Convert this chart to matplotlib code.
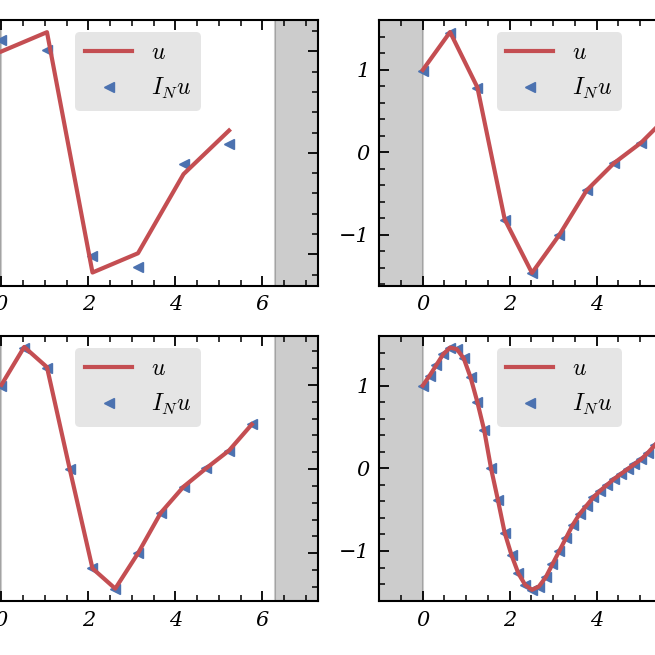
import os
import numpy as np
import matplotlib
matplotlib.use("Agg")
import matplotlib.pyplot as plt
from matplotlib.font_manager import FontProperties

plt.rcParams['font.family'] = 'serif'
plt.rcParams['font.serif'] = ['DejaVu Serif']
plt.rcParams['mathtext.fontset'] = 'cm'

ital = FontProperties(fname=os.path.join(matplotlib.get_data_path(), 'fonts', 'ttf',
                                         'DejaVuSerif-Italic.ttf'), size=15)

# values, grid x_j = 2*pi*j/N
u6 = [1.00, 1.19, -1.18, -0.99, -0.21, 0.22]
iu6 = [1.11, 1.01, -1.02, -1.13, -0.11, 0.09]

u10 = [1.00, 1.46, 0.79, -0.81, -1.46, -1.00, -0.46, -0.13, 0.12, 0.45]
iu10 = [0.99, 1.45, 0.78, -0.82, -1.46, -1.00, -0.46, -0.13, 0.12, 0.45]

u12 = [1.00, 1.45, 1.21, 0.00, -1.18, -1.42, -1.00, -0.52, -0.21, 0.01, 0.22, 0.53]
iu12 = [0.99, 1.44, 1.20, 0.00, -1.18, -1.42, -1.00, -0.52, -0.21, 0.01, 0.22, 0.53]

u40 = [1.00, 1.12, 1.25, 1.38, 1.46, 1.44, 1.33, 1.10, 0.80, 0.46,
       0.00, -0.38, -0.78, -1.05, -1.27, -1.41, -1.47, -1.43, -1.32, -1.16,
       -1.00, -0.84, -0.68, -0.55, -0.45, -0.35, -0.27, -0.20, -0.13, -0.07,
       -0.01, 0.05, 0.11, 0.19, 0.28, 0.38, 0.48, 0.58, 0.70, 0.85]
iu40 = u40

xticks = [0, 2, 4, 6]
yticks = [-1, 0, 1]

panels = [(u6, iu6), (u10, iu10), (u12, iu12), (u40, iu40)]
ylims = [(-1.31, 1.31), (-1.615, 1.606), (-1.567, 1.58), (-1.605, 1.60)]

red = '#C44E52'
blue = '#4C72B0'

fig = plt.figure(figsize=(6.55, 6.55), dpi=100)
W, H = 655, 655
rects = [(-42, 20, 360, 265.7), (379.3, 20, 360, 265.7),
         (-42, 336, 360, 265), (379.3, 336, 360, 265)]

for (u, iu), yl, (x0, y0, w, h) in zip(panels, ylims, rects):
    ax = fig.add_axes([x0 / W, 1 - (y0 + h) / H, w / W, h / H])
    n = len(u)
    x = 2 * np.pi * np.arange(n) / n
    ax.axvspan(-1, 0, color='k', alpha=0.2, lw=1.5)
    ax.axvspan(2 * np.pi, 2 * np.pi + 1, color='k', alpha=0.2, lw=1.5)
    pts, = ax.plot(x, iu, ls='none', marker='<', ms=6.5, color=blue, zorder=2)
    ln, = ax.plot(x, u, color=red, lw=3, zorder=3)
    ax.set_xlim(-1, 2 * np.pi + 1)
    ax.set_ylim(*yl)
    ax.set_xticks(xticks)
    ax.set_xticklabels([str(t) for t in xticks], fontproperties=ital)
    ax.set_yticks(yticks)
    ax.set_yticklabels([str(t).replace('-', '\u2212') for t in yticks], fontproperties=ital)
    ax.minorticks_on()
    ax.tick_params(which='both', direction='in', top=True, right=True, pad=7)
    ax.tick_params(which='major', length=7, width=1.3)
    ax.tick_params(which='minor', length=4, width=1.1)
    for s in ax.spines.values():
        s.set_linewidth(1.5)
    ax.legend([ln, pts], ['$u$', '$I_N u$'], loc='upper center', fontsize=17,
              handlelength=2.0, facecolor='#e5e5e5', edgecolor='none',
              framealpha=1, numpoints=1)

fig.savefig('out.png', dpi=100)
